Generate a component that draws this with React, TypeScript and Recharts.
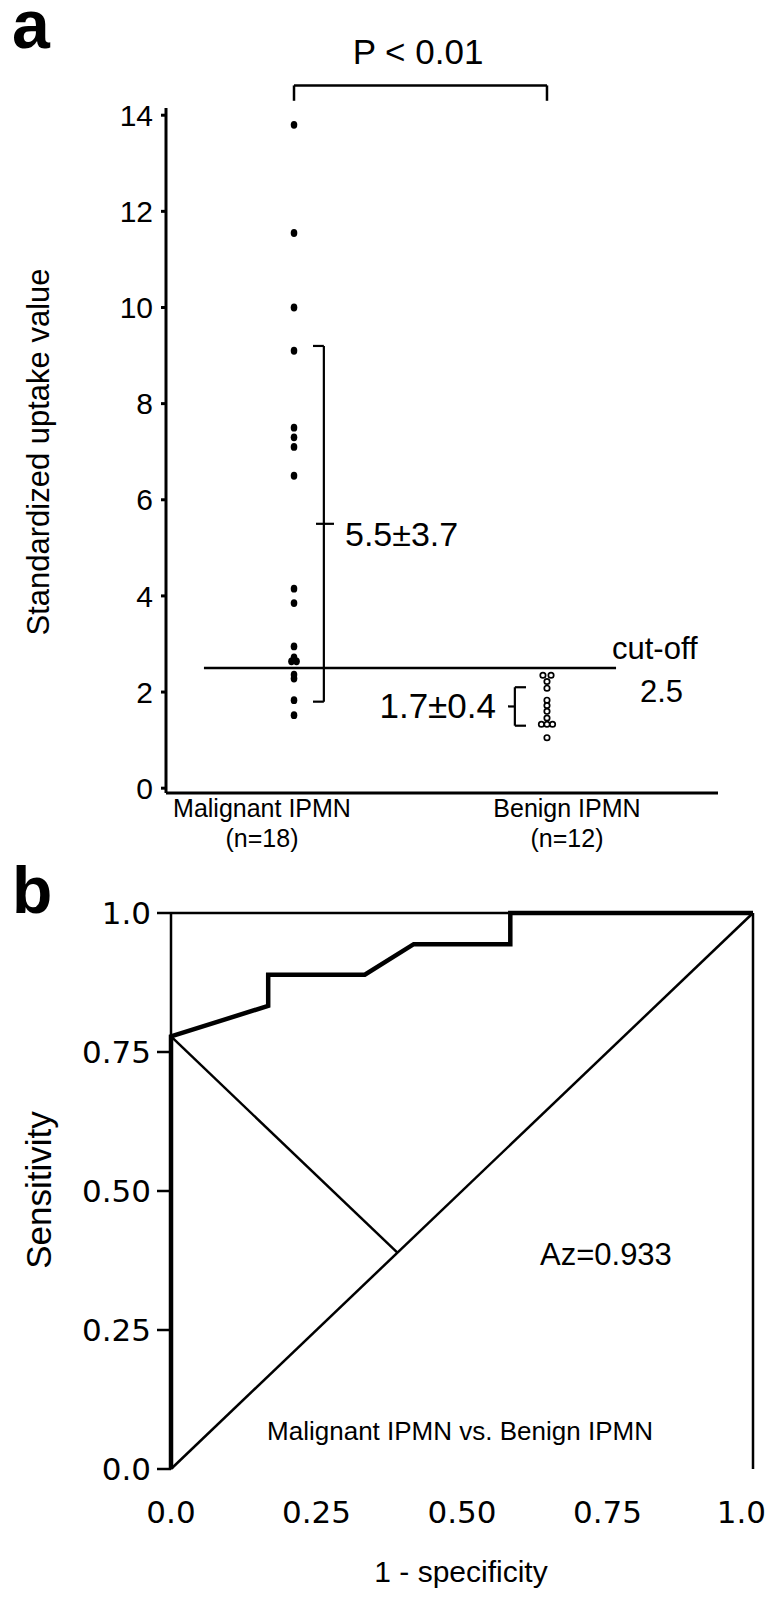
import React from 'react';
import { ComposedChart, Scatter, XAxis, YAxis, ReferenceLine, Line } from 'recharts';

// ---------- Panel a data ----------
const groupNames = ['Malignant IPMN', 'Benign IPMN'];
const groupCounts = ['(n=18)', '(n=12)'];
const groupX = [1, 2];
const suvTicks = [0, 2, 4, 6, 8, 10, 12, 14];
const malignantSUV = [13.8, 11.55, 10.0, 9.1, 7.5, 7.3, 7.1, 6.5, 4.15, 3.85, 2.95, 2.72, 2.64, 2.64, 2.36, 2.28, 1.83, 1.52];
const malignantJitter = [0, 0, 0, 0, 0, 0, 0, 0, 0, 0, 0, 0, -0.01, 0.01, 0, 0, 0, 0];
const benignSUV = [2.35, 2.35, 2.22, 2.08, 1.83, 1.72, 1.6, 1.46, 1.33, 1.33, 1.33, 1.05];
const benignJitter = [-0.016, 0.016, 0, 0, 0, 0, 0, 0, -0.022, 0, 0.022, 0];
const malignantMean = 5.5;
const malignantSD = 3.7;
const benignMean = 1.7;
const benignSD = 0.4;
const cutOff = 2.5;

// ---------- Panel b data ----------
const rocFPR = [0, 0, 0.167, 0.167, 0.333, 0.417, 0.583, 0.583, 1];
const rocTPR = [0, 0.778, 0.833, 0.889, 0.889, 0.944, 0.944, 1, 1];
const chanceFPR = [0, 1];
const chanceTPR = [0, 1];
const youdenFPR = [0, 0.389];
const youdenTPR = [0.778, 0.389];
const rocTicks = [0, 0.25, 0.5, 0.75, 1];
const rocTickLabels = ['0.0', '0.25', '0.50', '0.75', '1.0'];

const FONT = '"Liberation Sans", Arial, Helvetica, sans-serif';
const FONT_B = '"DejaVu Sans", Verdana, sans-serif';

const malignantData = malignantSUV.map((v, i) => ({ x: groupX[0] + malignantJitter[i], y: v }));
const benignData = benignSUV.map((v, i) => ({ x: groupX[1] + benignJitter[i], y: v }));
const zip = (xs: number[], ys: number[]) => xs.map((x, i) => ({ x, y: ys[i] }));
const rocData = zip(rocFPR, rocTPR);
const chanceData = zip(chanceFPR, chanceTPR);
const youdenData = zip(youdenFPR, youdenTPR);

const FilledDot = (p: any) => <ellipse cx={p.cx} cy={p.cy} rx={3.3} ry={3.9} fill="#000" />;
const OpenDot = (p: any) => <circle cx={p.cx} cy={p.cy} r={2.7} fill="#fff" stroke="#000" strokeWidth={1.7} />;

const GroupTick = (props: any) => {
  const { x, y, index } = props;
  const shift = index === 0 ? -32 : 20;
  return (
    <g>
      <text x={x + shift} y={y + 16} textAnchor="middle" fontSize={25} fontFamily={FONT} fill="#000">
        {groupNames[index]}
      </text>
      <text x={x + shift} y={y + 46} textAnchor="middle" fontSize={25} fontFamily={FONT} fill="#000">
        {groupCounts[index]}
      </text>
    </g>
  );
};

const RocXTick = (props: any) => {
  const { x, y, payload, index } = props;
  const label = rocTickLabels[rocTicks.indexOf(payload.value)];
  const last = index === rocTicks.length - 1;
  return (
    <text
      x={last ? 766 : x}
      y={y}
      dy="0.71em"
      textAnchor={last ? 'end' : 'middle'}
      fontSize={31}
      fontFamily={FONT_B}
      fill="#000"
    >
      {label}
    </text>
  );
};

const seg = (x1: number, y1: number, x2: number, y2: number, w = 2.5) => (
  <ReferenceLine
    segment={[{ x: x1, y: y1 }, { x: x2, y: y2 }]}
    stroke="#000"
    strokeWidth={w}
    ifOverflow="visible"
  />
);

export default function App() {
  const mTop = malignantMean + malignantSD;
  const mBot = malignantMean - malignantSD;
  const bTop = benignMean + benignSD;
  const bBot = benignMean - benignSD;
  return (
    <div style={{ position: 'absolute', left: 0, top: 0, width: 767, height: 1600, background: '#fff' }}>
      {/* Panel a */}
      <div style={{ position: 'absolute', left: 0, top: 0 }}>
        <ComposedChart width={767} height={860} margin={{ top: 108, right: 49, bottom: 7, left: 106 }}>
          <XAxis
            type="number"
            dataKey="x"
            domain={[0.494, 2.676]}
            ticks={groupX}
            tickLine={false}
            axisLine={{ stroke: '#000', strokeWidth: 3 }}
            tick={<GroupTick />}
            height={60}
            allowDataOverflow
          />
          <YAxis
            type="number"
            dataKey="y"
            domain={[-0.1, 14.15]}
            ticks={suvTicks}
            width={60}
            tickSize={5}
            tickMargin={8}
            axisLine={{ stroke: '#000', strokeWidth: 3 }}
            tickLine={{ stroke: '#000', strokeWidth: 3 }}
            tick={{ fontSize: 30, fill: '#000', fontFamily: FONT }}
            allowDataOverflow
          />
          {/* cut-off line */}
          {seg(0.644, cutOff, 2.273, cutOff, 2.5)}
          {/* P bracket */}
          {seg(groupX[0], 14.62, groupX[1], 14.62, 2.5)}
          {seg(groupX[0], 14.62, groupX[0], 14.3, 2.5)}
          {seg(groupX[1], 14.62, groupX[1], 14.3, 2.5)}
          {/* malignant mean ± SD bracket */}
          {seg(1.118, mTop, 1.118, mBot, 2.2)}
          {seg(1.075, mTop, 1.118, mTop, 2.2)}
          {seg(1.075, mBot, 1.118, mBot, 2.2)}
          {seg(1.087, malignantMean, 1.158, malignantMean, 2.2)}
          {/* benign mean ± SD bracket */}
          {seg(1.873, bTop, 1.873, bBot, 2.2)}
          {seg(1.873, bTop, 1.917, bTop, 2.2)}
          {seg(1.873, bBot, 1.917, bBot, 2.2)}
          {seg(1.846, benignMean, 1.873, benignMean, 2.2)}
          <Scatter data={malignantData} shape={<FilledDot />} isAnimationActive={false} />
          <Scatter data={benignData} shape={<OpenDot />} isAnimationActive={false} />
        </ComposedChart>
      </div>

      {/* Panel b */}
      <div style={{ position: 'absolute', left: 0, top: 850 }}>
        <ComposedChart width={767} height={750} margin={{ top: 63, right: 14, bottom: 71, left: 91 }}>
          <XAxis
            type="number"
            dataKey="x"
            domain={[0, 1]}
            ticks={rocTicks}
            axisLine={false}
            tickLine={false}
            tickSize={0}
            tickMargin={32}
            height={60}
            tick={<RocXTick />}
          />
          <YAxis
            type="number"
            dataKey="y"
            domain={[0, 1]}
            ticks={rocTicks}
            tickFormatter={(v: number) => rocTickLabels[rocTicks.indexOf(v)]}
            width={80}
            tickSize={14}
            tickMargin={6}
            axisLine={{ stroke: '#000', strokeWidth: 2.5 }}
            tickLine={{ stroke: '#000', strokeWidth: 2.5 }}
            tick={{ fontSize: 31, fill: '#000', fontFamily: FONT_B }}
          />
          <ReferenceLine y={1} stroke="#000" strokeWidth={2.5} />
          <ReferenceLine x={1} stroke="#000" strokeWidth={2.5} />
          <Line data={chanceData} dataKey="y" type="linear" stroke="#000" strokeWidth={2.5} dot={false} isAnimationActive={false} />
          <Line data={youdenData} dataKey="y" type="linear" stroke="#000" strokeWidth={2.5} dot={false} isAnimationActive={false} />
          <Line data={rocData} dataKey="y" type="linear" stroke="#000" strokeWidth={4.5} strokeLinejoin="miter" dot={false} isAnimationActive={false} />
        </ComposedChart>
      </div>

      {/* Text annotations */}
      <svg width={767} height={1600} style={{ position: 'absolute', left: 0, top: 0, pointerEvents: 'none' }}>
        <text x={12} y={48} fontSize={68} fontWeight="bold" fontFamily={FONT} fill="#000">a</text>
        <text x={418} y={64} textAnchor="middle" fontSize={35} fontFamily={FONT} fill="#000">P &lt; 0.01</text>
        <text transform="translate(49,452) rotate(-90)" textAnchor="middle" fontSize={31} fontFamily={FONT} fill="#000">
          Standardized uptake value
        </text>
        <text x={345} y={546} fontSize={34} fontFamily={FONT} fill="#000">5.5±3.7</text>
        <text x={496} y={718} textAnchor="end" fontSize={35} fontFamily={FONT} fill="#000">1.7±0.4</text>
        <text x={612} y={659} fontSize={31} fontFamily={FONT} fill="#000">cut-off</text>
        <text x={640} y={702} fontSize={31} fontFamily={FONT} fill="#000">2.5</text>

        <text x={12} y={913} fontSize={66} fontWeight="bold" fontFamily={FONT} fill="#000">b</text>
        <text transform="translate(51,1190) rotate(-90)" textAnchor="middle" fontSize={35} fontFamily={FONT} fill="#000">
          Sensitivity
        </text>
        <text x={540} y={1265} fontSize={31} fontFamily={FONT} fill="#000">Az=0.933</text>
        <text x={460} y={1440} textAnchor="middle" fontSize={26} fontFamily={FONT} fill="#000">
          Malignant IPMN vs. Benign IPMN
        </text>
        <text x={461} y={1582} textAnchor="middle" fontSize={30} fontFamily={FONT} fill="#000">1 - specificity</text>
      </svg>
    </div>
  );
}
